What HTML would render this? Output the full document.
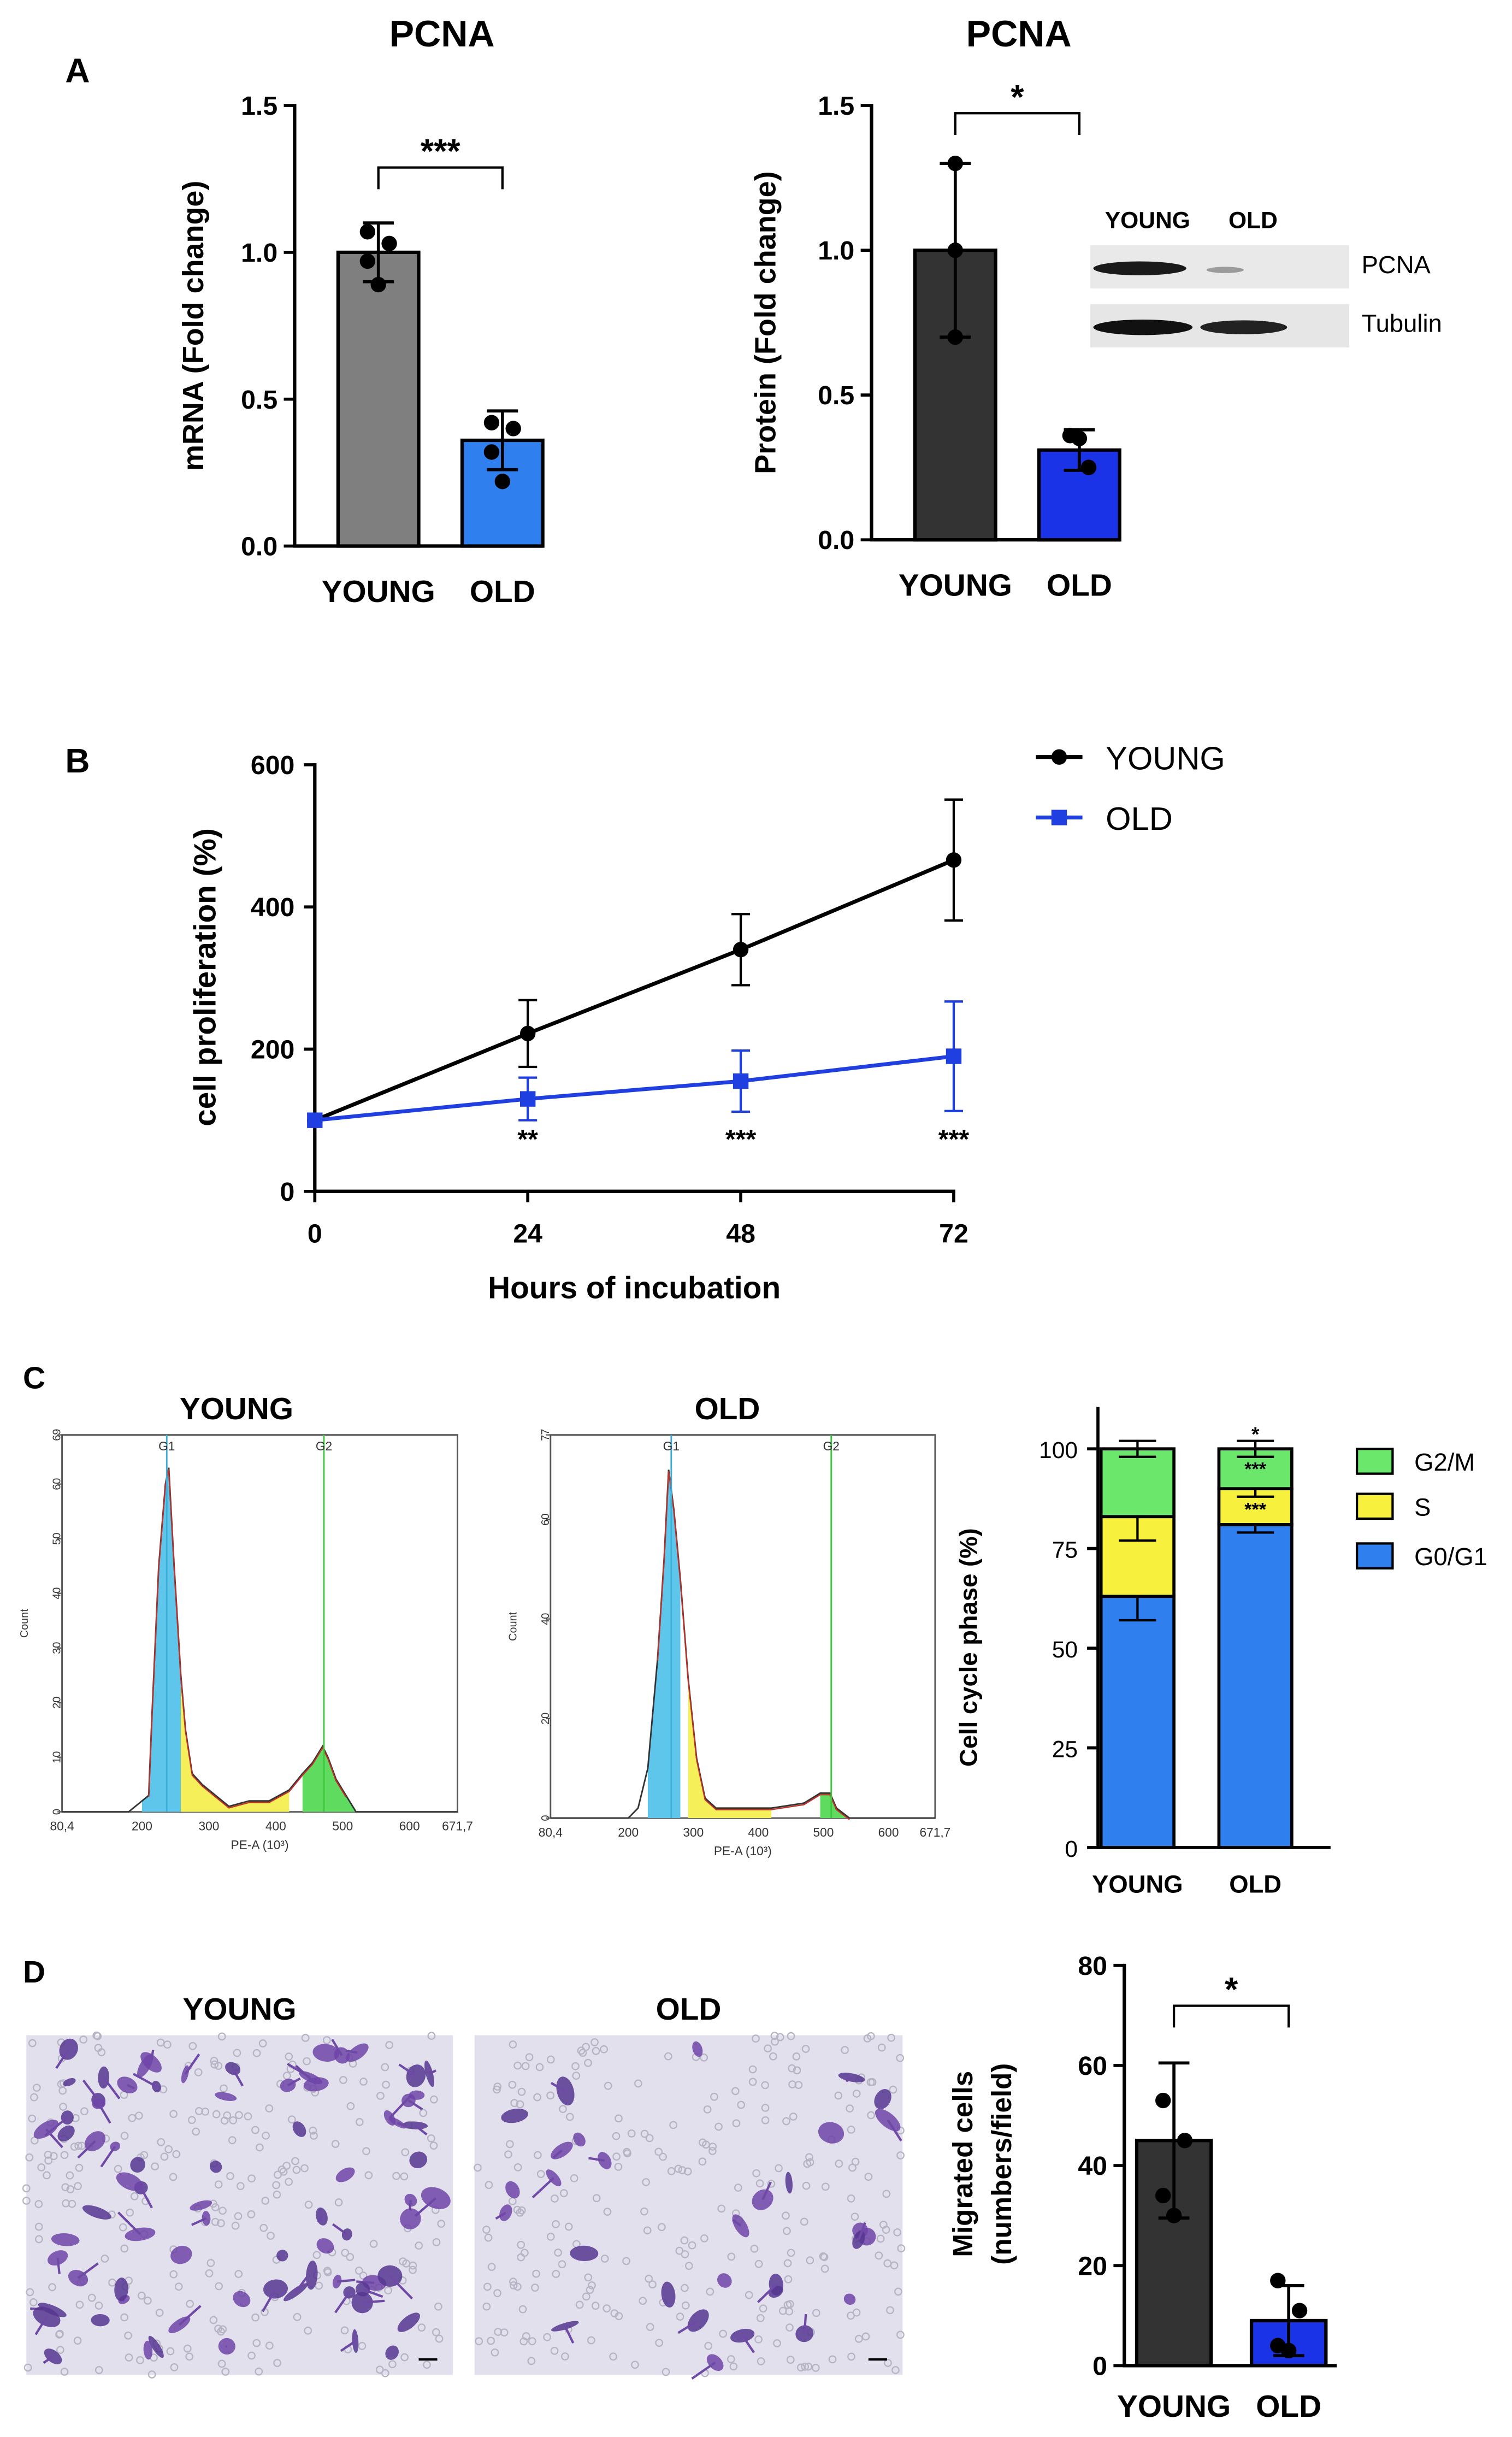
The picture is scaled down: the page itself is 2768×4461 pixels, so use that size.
<!DOCTYPE html>
<html><head><meta charset="utf-8">
<style>
html,body{margin:0;padding:0;background:#fff;}
svg{display:block;font-family:"Liberation Sans",Arial,sans-serif;}
</style></head>
<body>
<svg id="fig" width="2768" height="4461" viewBox="0 0 975 1571" preserveAspectRatio="none" xmlns="http://www.w3.org/2000/svg"></svg>
<script>
// ---------- DATA ----------
const aCats = ["YOUNG","OLD"];
const mrnaMeans = [1.0, 0.36];
const mrnaErr = [0.10, 0.10];
const mrnaPtsYoung = [1.07, 1.03, 0.97, 0.89];
const mrnaPtsOld = [0.42, 0.40, 0.32, 0.22];
const protMeans = [1.0, 0.31];
const protErr = [0.30, 0.07];
const protPtsYoung = [1.30, 1.00, 0.70];
const protPtsOld = [0.36, 0.35, 0.25];
const aTicks = [0, 0.5, 1.0, 1.5];
const aTickLabels = ["0.0","0.5","1.0","1.5"];

const bHours = [0, 24, 48, 72];
const bYoung = [100, 222, 340, 466];
const bYoungErr = [0, 47, 50, 85];
const bOld = [100, 130, 155, 190];
const bOldErr = [0, 30, 43, 77];
const bStars = ["", "**", "***", "***"];
const bTicks = [0, 200, 400, 600];

const histYoungX = [80,180,200,210,215,225,235,240,248,258,265,275,290,310,330,360,390,420,440,455,470,478,490,505,520,560,672];
const histYoungY = [0,0,2,3,18,45,60,63,45,25,15,7,5,3,1,2,2,4,7,9,12,10,6,3,0,0,0];
const histOldX = [80,200,215,230,245,255,262,270,280,292,305,318,335,370,420,470,495,510,520,540,672];
const histOldY = [0,0,2,10,32,52,70,62,48,28,12,4,2,2,2,3,5,5,2,0,0];

const cCats = ["YOUNG","OLD"];
const cG1 = [63, 81];
const cS = [20, 9];
const cG2 = [17, 10];
const cErrG1 = [6, 2];
const cErrS = [6, 2];
const cErrG2 = [2, 2];
const cTicks = [0, 25, 50, 75, 100];

const dCats = ["YOUNG","OLD"];
const dMeans = [45, 9];
const dErr = [15.5, 7];
const dPtsYoung = [53, 45, 34, 30];
const dPtsOld = [17, 11, 4, 3];
const dTicks = [0, 20, 40, 60, 80];

// ---------- HELPERS ----------
const NS="http://www.w3.org/2000/svg";
const svg=document.getElementById('fig');
function mk(tag,attrs,parent){const e=document.createElementNS(NS,tag);for(const k in attrs)e.setAttribute(k,attrs[k]);(parent||svg).appendChild(e);return e;}
function txt(x,y,s,size,opts,parent){opts=opts||{};const t=mk('text',Object.assign({x:x,y:y,'font-size':size,'font-weight':opts.w||'bold','text-anchor':opts.a||'middle',fill:opts.fill||'#000'},opts.extra||{}),parent);t.textContent=s;return t;}
function line(x1,y1,x2,y2,sw,col,parent){return mk('line',{x1:x1,y1:y1,x2:x2,y2:y2,stroke:col||'#000','stroke-width':sw||2},parent);}

// ---------- PANEL A ----------
function barPanel(cfg){
  const g=mk('g',{});
  
  
  const y=v=>cfg.y0-(v-cfg.vmin)*(cfg.y0-cfg.y1)/(cfg.vmax-cfg.vmin);
  cfg.ticks.forEach((t,i)=>{
    line(cfg.ax-7,y(t),cfg.ax,y(t),2,'#000',g);
    const l=txt(cfg.ax-11,y(t)+6,cfg.tickLabels[i],cfg.tfs||17,{a:'end'},g);
    
    
  });
  line(cfg.ax,cfg.y1-1,cfg.ax,cfg.y0+1,2.2,'#000',g);
  line(cfg.ax-1,cfg.y0,cfg.xend,cfg.y0,2.2,'#000',g);
  cfg.means.forEach((m,i)=>{
    const bx=cfg.bx[i];
    const r=mk('rect',{x:bx,y:y(m),width:cfg.bw,height:cfg.y0-y(m),fill:cfg.colors[i],stroke:'#000','stroke-width':2.2},g);
    
    
    const cx=bx+cfg.bw/2;
    line(cx,y(m+cfg.err[i]),cx,y(Math.max(0,m-cfg.err[i])),2,'#000',g);
    line(cx-10,y(m+cfg.err[i]),cx+10,y(m+cfg.err[i]),2,'#000',g);
    line(cx-10,y(m-cfg.err[i]),cx+10,y(m-cfg.err[i]),2,'#000',g);
    const pts=cfg.pts[i];
    pts.forEach((p,j)=>{
      const off=pts.length===4?[-7,7,-7,0][j]:[-6,0,6][j]*(i===1?1:0);
      const c=mk('circle',{cx:cx+(i===0&&pts.length===3?0:off),cy:y(p),r:5,fill:'#000'},g);
      
      
    });
    const lb=txt(cx,cfg.y0+cfg.labOff,cfg.cats[i],cfg.cfs||20,{},g);
    
    
  });
  const c0=cfg.bx[0]+cfg.bw/2,c1=cfg.bx[1]+cfg.bw/2;
  mk('path',{d:`M${c0} ${cfg.brY+14}V${cfg.brY}H${c1}V${cfg.brY+14}`,fill:'none',stroke:'#000','stroke-width':1.5},g);
  const st=txt((c0+c1)/2,cfg.brY-3,cfg.stars,22,{},g);
  
  
  const yt=txt(0,0,cfg.ytitle[0],cfg.yfs||19,{extra:{transform:`translate(${cfg.ytx},${cfg.yty}) rotate(-90)`}},g);
  
  
  if(cfg.ytitle[1]){const y2=txt(0,0,cfg.ytitle[1],cfg.yfs||19,{extra:{transform:`translate(${cfg.ytx+25},${cfg.yty}) rotate(-90)`}},g);
    
    }
  return y;
}
let t;
t=txt(50,53,"A",22);  
t=txt(285,30,"PCNA",24);  
t=txt(657,30,"PCNA",24);  
barPanel({name:'mrna-chart',ax:190,y0:352,y1:68,vmin:0,vmax:1.5,xend:350,ticks:aTicks,tickLabels:aTickLabels,means:mrnaMeans,err:mrnaErr,
  pts:[mrnaPtsYoung,mrnaPtsOld],bx:[218,298],bw:52,colors:['#7f7f7f','#2f7fee'],cats:aCats,labOff:36,brY:108,stars:'***',
  ytitle:['mRNA (Fold change)'],ytx:131,yty:210});
barPanel({name:'protein-chart',ax:562,y0:348,y1:68,vmin:0,vmax:1.5,xend:722,ticks:aTicks,tickLabels:aTickLabels,means:protMeans,err:protErr,
  pts:[protPtsYoung,protPtsOld],bx:[590,670],bw:52,colors:['#333333','#1a33e6'],cats:aCats,labOff:36,brY:73,stars:'*',
  ytitle:['Protein (Fold change)'],ytx:500,yty:208});
const wb=mk('g',{});  
txt(740,147,"YOUNG",15,{},wb); txt(808,147,"OLD",15,{},wb);
mk('rect',{x:703,y:158,width:167,height:28,fill:'#e9e9e9'},wb);
mk('rect',{x:703,y:196,width:167,height:28,fill:'#e6e6e6'},wb);
mk('ellipse',{cx:735,cy:173,rx:30,ry:4.5,fill:'#1a1a1a'},wb);
mk('ellipse',{cx:790,cy:174,rx:12,ry:2,fill:'#9a9a9a'},wb);
mk('ellipse',{cx:737,cy:211,rx:32,ry:5,fill:'#111'},wb);
mk('ellipse',{cx:802,cy:211,rx:28,ry:4.5,fill:'#222'},wb);
txt(878,176,"PCNA",16,{a:'start',w:'normal'},wb);
txt(878,214,"Tubulin",16,{a:'start',w:'normal'},wb);

// ---------- PANEL B ----------
t=txt(50,498,"B",22);  
(function(){
  const g=mk('g',{});  
  const X=h=>203+h*(615-203)/72, Y=v=>768-v*(768-493)/600;
  bTicks.forEach(v=>{line(196,Y(v),203,Y(v),2,'#000',g);const l=txt(190,Y(v)+6,String(v),17,{a:'end'},g);});
  bHours.forEach(h=>{line(X(h),768,X(h),775,2,'#000',g);const l=txt(X(h),801,String(h),17,{},g);});
  line(203,492,203,769,2.2,'#000',g); line(202,768,616,768,2.2,'#000',g);
  function series(vals,errs,col,sq,name){
    const sg=mk('g',{},g);  
    mk('polyline',{points:vals.map((v,i)=>X(bHours[i])+','+Y(v)).join(' '),fill:'none',stroke:col,'stroke-width':2.5},sg);
    vals.forEach((v,i)=>{const x=X(bHours[i]);
      if(errs[i]>0){line(x,Y(v+errs[i]),x,Y(v-errs[i]),1.5,col,sg);line(x-6,Y(v+errs[i]),x+6,Y(v+errs[i]),1.5,col,sg);line(x-6,Y(v-errs[i]),x+6,Y(v-errs[i]),1.5,col,sg);}
      const m=sq?mk('rect',{x:x-5,y:Y(v)-5,width:10,height:10,fill:col},sg):mk('circle',{cx:x,cy:Y(v),r:5,fill:col},sg);
       
    });
  }
  series(bYoung,bYoungErr,'#000',false,'series-young');
  series(bOld,bOldErr,'#1f3fe0',true,'series-old');
  bStars.forEach((s,i)=>{if(s){const l=txt(X(bHours[i]),740,s,17,{},g);}});
  t=txt(409,837,"Hours of incubation",20,{},g);  
  t=txt(0,0,"cell proliferation (%)",20,{extra:{transform:'translate(139,630) rotate(-90)'}},g);  
  const lg=mk('g',{},g);  
  line(668,488,698,488,2.5,'#000',lg); mk('circle',{cx:683,cy:488,r:5,fill:'#000'},lg);
  txt(713,496,"YOUNG",21,{a:'start',w:'normal'},lg);
  line(668,527,698,527,2.5,'#1f3fe0',lg); mk('rect',{x:678,y:522,width:10,height:10,fill:'#1f3fe0'},lg);
  txt(713,535,"OLD",21,{a:'start',w:'normal'},lg);
})();

// ---------- PANEL C ----------
t=txt(22,895,"C",20);  
function histogram(name,title,fx0,fx1,fy0,fy1,ymax,hx,hy,g1,g2,yticks){
  const g=mk('g',{});  
  const X=v=>fx0+(v-80.4)*(fx1-fx0)/(671.7-80.4), Y=v=>fy1-v*(fy1-fy0)/ymax;
  txt((fx0+fx1)/2+(name.includes('young')?-15:-10),915,title,20,{},g);
  mk('rect',{x:fx0,y:fy0,width:fx1-fx0,height:fy1-fy0,fill:'#fff',stroke:'#555','stroke-width':1},g);
  const pts=hx.map((x,i)=>[X(x),Y(hy[i])]);
  const clip=(a,b,col)=>{
    const seg=pts.filter(p=>p[0]>=X(a)&&p[0]<=X(b));
    if(!seg.length)return;
    mk('path',{d:`M${seg[0][0]} ${fy1}`+seg.map(p=>`L${p[0]} ${p[1]}`).join('')+`L${seg[seg.length-1][0]} ${fy1}Z`,fill:col,stroke:'none'},g);
  };
  clip(g1-40,g1+22,'#5ec6ea');
  clip(g1+18,g2-50,'#f5f05a');
  clip(g2-40,g2+50,'#5fdc5f');
  mk('polyline',{points:pts.map(p=>p.join(',')).join(' '),fill:'none',stroke:'#333','stroke-width':1},g);
  mk('polyline',{points:pts.filter(p=>p[0]>X(g1-30)&&p[0]<X(g2+40)).map(p=>p[0]+','+(p[1]+1)).join(' '),fill:'none',stroke:'#c0302a','stroke-width':0.8},g);
  line(X(g1),fy0,X(g1),fy1,1,'#3ab0d8',g); line(X(g2),fy0,X(g2),fy1,1,'#3cc83c',g);
  txt(X(g1),935,"G1",8,{w:'normal',fill:'#333'},g); txt(X(g2),935,"G2",8,{w:'normal',fill:'#333'},g);
  [80.4,200,300,400,500,600,671.7].forEach(v=>{txt(X(v),fy1+12,String(v).replace('.',','),8,{w:'normal',fill:'#333'},g);});
  txt((fx0+fx1)/2,fy1+24,"PE-A (10³)",8,{w:'normal',fill:'#333'},g);
  yticks.forEach(v=>{txt(fx0-4,Y(v)+3,String(v),7,{w:'normal',fill:'#333',extra:{transform:`rotate(-90 ${fx0-4} ${Y(v)})`}},g);line(fx0-3,Y(v),fx0,Y(v),0.8,'#555',g);});
  txt(0,0,"Count",7,{w:'normal',fill:'#333',extra:{transform:`translate(${fx0-22},${(fy0+fy1)/2}) rotate(-90)`}},g);
}
histogram('histogram-young','YOUNG',40,295,925,1168,69,histYoungX,histYoungY,237,472,[0,10,20,30,40,50,60,69]);
histogram('histogram-old','OLD',355,603,925,1172,77,histOldX,histOldY,266,512,[0,20,40,60,77]);

(function(){
  const g=mk('g',{});  
  const Y=v=>1191-v*(1191-934)/100;
  cTicks.forEach(v=>{line(701,Y(v),708,Y(v),2,'#000',g);const l=txt(695,Y(v)+6,String(v),15,{a:'end',w:'normal'},g);});
  line(708,907,708,1192,2,'#000',g); line(707,1191,858,1191,2,'#000',g);
  const bx=[710,786], bw=47;
  cCats.forEach((c,i)=>{
    const segs=[[0,cG1[i],'#2f7fee','g0g1',cErrG1[i]],[cG1[i],cG1[i]+cS[i],'#f7f03c','s',cErrS[i]],[cG1[i]+cS[i],cG1[i]+cS[i]+cG2[i],'#6be86b','g2m',cErrG2[i]]];
    segs.forEach(s=>{const r=mk('rect',{x:bx[i],y:Y(s[1]),width:bw,height:Y(s[0])-Y(s[1]),fill:s[2],stroke:'#000','stroke-width':2},g);
       
      const cx=bx[i]+bw/2; line(cx,Y(s[1]),cx,Y(s[1]+s[4]),1.5,'#000',g); line(cx-12,Y(s[1]+s[4]),cx+12,Y(s[1]+s[4]),1.5,'#000',g);
      line(cx,Y(s[1]),cx,Y(s[1]-s[4]),1.5,'#000',g); line(cx-12,Y(s[1]-s[4]),cx+12,Y(s[1]-s[4]),1.5,'#000',g);
    });
    const l=txt(bx[i]+bw/2,1220,c,16,{},g);  
  });
  const cx=bx[1]+bw/2;
  txt(cx,929,"*",13,{},g);
  txt(cx,951,"***",12,{},g);
  txt(cx,977,"***",12,{},g);
  t=txt(0,0,"Cell cycle phase (%)",16,{extra:{transform:'translate(630,1062) rotate(-90)'}},g);  
  const lg=mk('g',{},g);  
  [['G2/M','#6be86b',934],['S','#f7f03c',963],['G0/G1','#2f7fee',995]].forEach(e=>{
    mk('rect',{x:875,y:e[2],width:23,height:16,fill:e[1],stroke:'#000','stroke-width':1.5},lg);
    txt(912,e[2]+14,e[0],16,{a:'start',w:'normal'},lg);
  });
})();

// ---------- PANEL D ----------
t=txt(22,1278,"D",20);  
function micro(name,title,x0,y0,w,h,density,seed){
  const g=mk('g',{});  
  txt(x0+w/2,1302,title,20,{},g);
  mk('rect',{x:x0,y:y0,width:w,height:h,fill:'#e3e0ee'},g);
  let s=seed; const rnd=()=>{s=(s*9301+49297)%233280;return s/233280;};
  for(let i=0;i<260;i++){mk('circle',{cx:x0+rnd()*w,cy:y0+rnd()*h,r:2.2,fill:'none',stroke:'#b5b3c4','stroke-width':0.8},g);}
  for(let i=0;i<density;i++){const cx=x0+8+rnd()*(w-16),cy=y0+8+rnd()*(h-16),rx=3+rnd()*7,ry=2+rnd()*5,a=rnd()*180;
    mk('ellipse',{cx:cx,cy:cy,rx:rx,ry:ry,fill:rnd()>0.5?'#6f44a8':'#563690',opacity:0.85,transform:`rotate(${a} ${cx} ${cy})`},g);
    if(rnd()>0.4)line(cx,cy,cx+(rnd()-0.5)*30,cy+(rnd()-0.5)*30,1.5,'#6e4aa6',g);}
  line(x0+w-22,y0+h-10,x0+w-10,y0+h-10,1.5,'#000',g);
}
micro('micrograph-young','YOUNG',17,1312,275,219,75,7);
micro('micrograph-old','OLD',306,1312,276,219,30,13);
barPanel({name:'migration-chart',ax:725,y0:1525,y1:1267,vmin:0,vmax:80,xend:862,ticks:dTicks,tickLabels:dTicks.map(String),means:dMeans,err:dErr,
  pts:[dPtsYoung,dPtsOld],bx:[733,807],bw:48,colors:['#333333','#1a33e6'],cats:dCats,labOff:33,brY:1293,stars:'*',
  ytitle:['Migrated cells','(numbers/field)'],ytx:627,yty:1395,yfs:18});
</script>
</body></html>
